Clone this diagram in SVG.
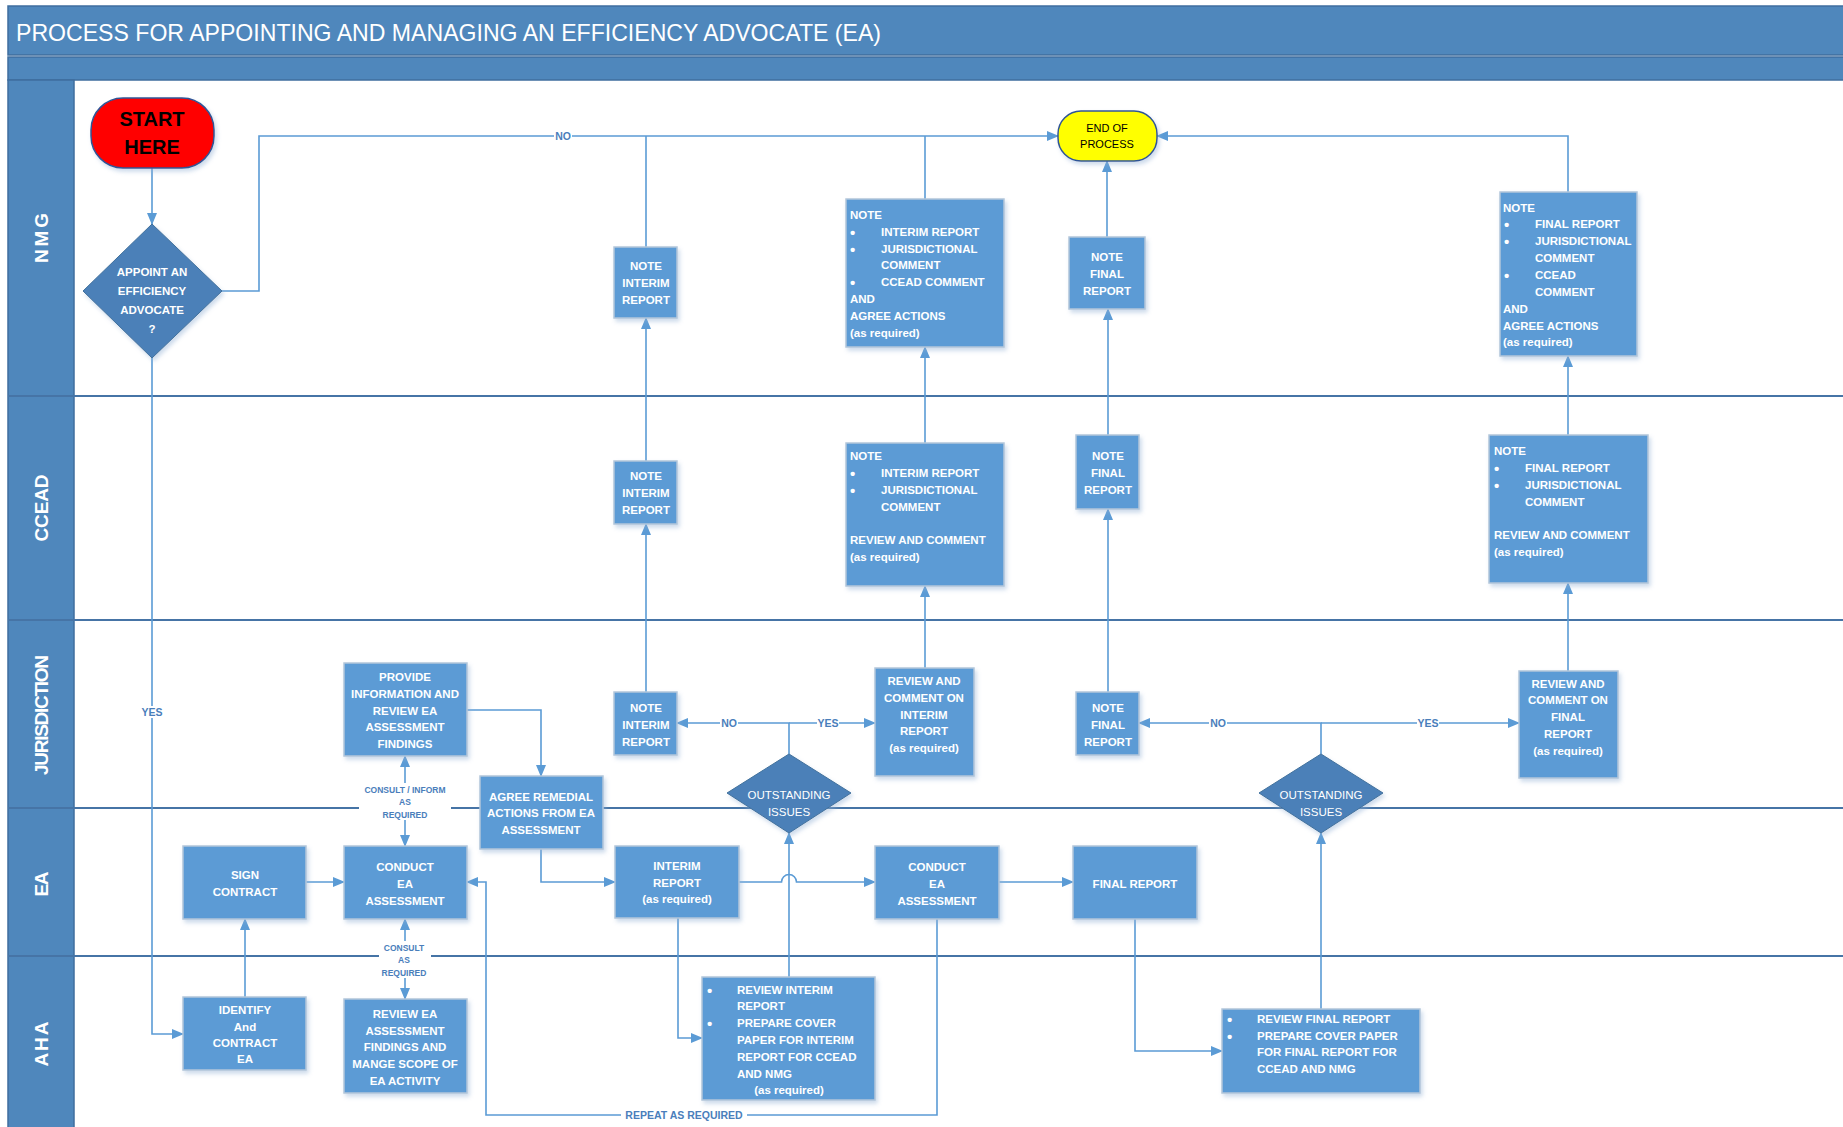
<svg xmlns="http://www.w3.org/2000/svg" width="1843" height="1127" viewBox="0 0 1843 1127">
<style>
.band{fill:#4F87BC;stroke:#3F6E9E;stroke-width:1.5}
.lane{stroke:#4674A6;stroke-width:2;fill:none}
.lname{font-family:"Liberation Sans",Arial,sans-serif;font-weight:bold;font-size:19px;fill:#fff;text-anchor:middle;dominant-baseline:central}
.box{fill:#5B9BD5;stroke:#B3C6DA;stroke-width:1.5;filter:url(#sh)}
.dia{fill:#4C80B8;stroke:#41719C;stroke-width:1;filter:url(#sh)}
.t{font-family:"Liberation Sans",Arial,sans-serif;font-weight:bold;font-size:11.5px;fill:#fff;dominant-baseline:central}
.b{font-size:15px}
.c{text-anchor:middle}
.tr{font-family:"Liberation Sans",Arial,sans-serif;font-size:11.5px;fill:#fff;text-anchor:middle;dominant-baseline:central}
.cn{fill:none;stroke:#5B9BD5;stroke-width:1.6}
.ar{marker-end:url(#ah)}
.lbl{font-family:"Liberation Sans",Arial,sans-serif;font-weight:bold;font-size:10.5px;fill:#4A7EBB;text-anchor:middle;dominant-baseline:central}
.sm{font-size:8.5px}
.bg{fill:#fff}
</style>
<defs>
<marker id="ah" markerUnits="userSpaceOnUse" markerWidth="12" markerHeight="10" refX="11" refY="5" orient="auto-start-reverse">
<path d="M0,0 L12,5 L0,10 z" fill="#5B9BD5"/>
</marker>
<filter id="sh" x="-10%" y="-10%" width="130%" height="130%">
<feDropShadow dx="2" dy="3" stdDeviation="2" flood-color="#8FAFD3" flood-opacity="0.45"/>
</filter>
</defs>
<rect x="0" y="0" width="1843" height="1127" fill="#fff"/>
<!-- header bands -->
<rect class="band" x="8" y="6" width="1840" height="49"/>
<rect class="band" x="8" y="57" width="1840" height="23"/>
<text x="16" y="32" font-family="Liberation Sans,Arial,sans-serif" font-size="24" fill="#fff" dominant-baseline="central" textLength="865" lengthAdjust="spacingAndGlyphs">PROCESS FOR APPOINTING AND MANAGING AN EFFICIENCY ADVOCATE (EA)</text>
<!-- lane header column -->
<rect class="band" x="8" y="80" width="66" height="1050"/>
<g id="lanes">
<line class="lane" x1="8" y1="396" x2="1843" y2="396"/>
<line class="lane" x1="8" y1="620" x2="1843" y2="620"/>
<line class="lane" x1="8" y1="808" x2="1843" y2="808"/>
<line class="lane" x1="8" y1="956" x2="1843" y2="956"/>
<text class="lname" transform="rotate(-90 41 238)" x="41" y="238" textLength="50">NMG</text>
<text class="lname" transform="rotate(-90 41 508)" x="41" y="508" textLength="67">CCEAD</text>
<text class="lname" transform="rotate(-90 41 715)" x="41" y="715" textLength="120">JURISDICTION</text>
<text class="lname" transform="rotate(-90 41 884)" x="41" y="884" textLength="25">EA</text>
<text class="lname" transform="rotate(-90 41 1044)" x="41" y="1044" textLength="45">AHA</text>
</g>
<g id="connectors">
<path class="cn ar" d="M152,168 V224"/>
<path class="cn ar" d="M222,291 H259 V136 H1058"/>
<path class="cn" d="M646,247 V136"/>
<path class="cn" d="M925,199 V136"/>
<path class="cn ar" d="M152,358 V1034 H183"/>
<path class="cn ar" d="M245,997 V919"/>
<path class="cn ar" d="M306,882 H344"/>
<path class="cn ar" d="M405,802 V756" />
<path class="cn ar" d="M405,802 V846" />
<path class="cn ar" d="M405,960 V919" />
<path class="cn ar" d="M405,960 V999" />
<path class="cn ar" d="M467,710 H541 V776"/>
<path class="cn ar" d="M541,849 V882 H615"/>
<path class="cn ar" d="M739,882 H781.5 A7.5,7.5 0 0 1 796.5,882 H875"/>
<path class="cn ar" d="M999,882 H1073"/>
<path class="cn ar" d="M678,918 V1038 H702"/>
<path class="cn ar" d="M789,977 V833"/>
<path class="cn ar" d="M789,754 V723 H677"/>
<path class="cn ar" d="M789,723 H875"/>
<path class="cn ar" d="M646,692 V524"/>
<path class="cn ar" d="M646,461 V318"/>
<path class="cn ar" d="M925,668 V586"/>
<path class="cn ar" d="M925,443 V347"/>
<path class="cn ar" d="M1108,692 V509"/>
<path class="cn ar" d="M1108,435 V309"/>
<path class="cn ar" d="M1107,237 V161"/>
<path class="cn ar" d="M1568,192 V136 H1157"/>
<path class="cn ar" d="M1321,754 V723 H1139"/>
<path class="cn ar" d="M1321,723 H1519"/>
<path class="cn ar" d="M1568,671 V583"/>
<path class="cn ar" d="M1568,435 V356"/>
<path class="cn ar" d="M1321,1009 V833"/>
<path class="cn ar" d="M1135,919 V1051 H1222"/>
<path class="cn ar" d="M937,919 V1115 H486 V882 H467"/>
<!-- labels -->
<rect class="bg" x="554" y="130" width="18" height="12"/>
<text class="lbl" x="563" y="136">NO</text>
<rect class="bg" x="141" y="706" width="22" height="12"/>
<text class="lbl" x="152" y="712">YES</text>
<rect class="bg" x="359" y="783" width="92" height="37"/>
<text class="lbl sm" x="405" y="790">CONSULT / INFORM</text>
<text class="lbl sm" x="405" y="802">AS</text>
<text class="lbl sm" x="405" y="815">REQUIRED</text>
<rect class="bg" x="379" y="941" width="52" height="37"/>
<text class="lbl sm" x="404" y="948">CONSULT</text>
<text class="lbl sm" x="404" y="960">AS</text>
<text class="lbl sm" x="404" y="973">REQUIRED</text>
<rect class="bg" x="720" y="717" width="18" height="12"/>
<text class="lbl" x="729" y="723">NO</text>
<rect class="bg" x="817" y="717" width="22" height="12"/>
<text class="lbl" x="828" y="723">YES</text>
<rect class="bg" x="1209" y="717" width="18" height="12"/>
<text class="lbl" x="1218" y="723">NO</text>
<rect class="bg" x="1417" y="717" width="22" height="12"/>
<text class="lbl" x="1428" y="723">YES</text>
<rect class="bg" x="621" y="1109" width="126" height="12"/>
<text class="lbl" x="684" y="1115">REPEAT AS REQUIRED</text>
</g>
<g id="start">
<rect x="91" y="98" width="123" height="70" rx="32" fill="#FF0000" stroke="#2F5597" stroke-width="1.5" filter="url(#sh)"/>
<text x="152" y="119" font-family="Liberation Sans,Arial,sans-serif" font-weight="bold" font-size="20" fill="#000" text-anchor="middle" dominant-baseline="central">START</text>
<text x="152" y="147" font-family="Liberation Sans,Arial,sans-serif" font-weight="bold" font-size="20" fill="#000" text-anchor="middle" dominant-baseline="central">HERE</text>
</g>
<g id="end">
<rect x="1058" y="111" width="99" height="50" rx="23" fill="#FFFF00" stroke="#2F5597" stroke-width="1.5" filter="url(#sh)"/>
<text x="1107" y="128" font-family="Liberation Sans,Arial,sans-serif" font-size="11" fill="#000" text-anchor="middle" dominant-baseline="central">END OF</text>
<text x="1107" y="144" font-family="Liberation Sans,Arial,sans-serif" font-size="11" fill="#000" text-anchor="middle" dominant-baseline="central">PROCESS</text>
</g>
<g id="appoint">
<polygon class="dia" points="152,224 222,291 152,358 83,291"/>
<text class="t c" x="152" y="272">APPOINT AN</text>
<text class="t c" x="152" y="291">EFFICIENCY</text>
<text class="t c" x="152" y="310">ADVOCATE</text>
<text class="t c" x="152" y="329">?</text>
</g>
<g id="nmg-note-interim">
<rect class="box" x="614" y="247" width="63" height="71"/>
<text class="t c" x="646" y="266">NOTE</text>
<text class="t c" x="646" y="283">INTERIM</text>
<text class="t c" x="646" y="300">REPORT</text>
</g>
<g id="nmg-note-interim-full">
<rect class="box" x="846" y="199" width="158" height="148"/>
<text class="t" x="850" y="215">NOTE</text>
<text class="t b" x="850" y="232">•</text><text class="t" x="881" y="232">INTERIM REPORT</text>
<text class="t b" x="850" y="249">•</text><text class="t" x="881" y="249">JURISDICTIONAL</text>
<text class="t" x="881" y="265">COMMENT</text>
<text class="t b" x="850" y="282">•</text><text class="t" x="881" y="282">CCEAD COMMENT</text>
<text class="t" x="850" y="299">AND</text>
<text class="t" x="850" y="316">AGREE ACTIONS</text>
<text class="t" x="850" y="333" font-weight="normal">(as required)</text>
</g>
<g id="nmg-note-final">
<rect class="box" x="1069" y="237" width="76" height="72"/>
<text class="t c" x="1107" y="257">NOTE</text>
<text class="t c" x="1107" y="274">FINAL</text>
<text class="t c" x="1107" y="291">REPORT</text>
</g>
<g id="nmg-note-final-full">
<rect class="box" x="1500" y="192" width="137" height="164"/>
<text class="t" x="1503" y="208">NOTE</text>
<text class="t b" x="1504" y="224">•</text><text class="t" x="1535" y="224">FINAL REPORT</text>
<text class="t b" x="1504" y="241">•</text><text class="t" x="1535" y="241">JURISDICTIONAL</text>
<text class="t" x="1535" y="258">COMMENT</text>
<text class="t b" x="1504" y="275">•</text><text class="t" x="1535" y="275">CCEAD</text>
<text class="t" x="1535" y="292">COMMENT</text>
<text class="t" x="1503" y="309">AND</text>
<text class="t" x="1503" y="326">AGREE ACTIONS</text>
<text class="t" x="1503" y="342" font-weight="normal">(as required)</text>
</g>
<g id="ccead-note-interim">
<rect class="box" x="614" y="461" width="63" height="63"/>
<text class="t c" x="646" y="476">NOTE</text>
<text class="t c" x="646" y="493">INTERIM</text>
<text class="t c" x="646" y="510">REPORT</text>
</g>
<g id="ccead-review-interim">
<rect class="box" x="846" y="443" width="158" height="143"/>
<text class="t" x="850" y="456">NOTE</text>
<text class="t b" x="850" y="473">•</text><text class="t" x="881" y="473">INTERIM REPORT</text>
<text class="t b" x="850" y="490">•</text><text class="t" x="881" y="490">JURISDICTIONAL</text>
<text class="t" x="881" y="507">COMMENT</text>
<text class="t" x="850" y="540">REVIEW AND COMMENT</text>
<text class="t" x="850" y="557" font-weight="normal">(as required)</text>
</g>
<g id="ccead-note-final">
<rect class="box" x="1076" y="435" width="63" height="74"/>
<text class="t c" x="1108" y="456">NOTE</text>
<text class="t c" x="1108" y="473">FINAL</text>
<text class="t c" x="1108" y="490">REPORT</text>
</g>
<g id="ccead-review-final">
<rect class="box" x="1489" y="435" width="159" height="148"/>
<text class="t" x="1494" y="451">NOTE</text>
<text class="t b" x="1494" y="468">•</text><text class="t" x="1525" y="468">FINAL REPORT</text>
<text class="t b" x="1494" y="485">•</text><text class="t" x="1525" y="485">JURISDICTIONAL</text>
<text class="t" x="1525" y="502">COMMENT</text>
<text class="t" x="1494" y="535">REVIEW AND COMMENT</text>
<text class="t" x="1494" y="552" font-weight="normal">(as required)</text>
</g>
<g id="provide">
<rect class="box" x="344" y="663" width="123" height="93"/>
<text class="t c" x="405" y="677">PROVIDE</text>
<text class="t c" x="405" y="694">INFORMATION AND</text>
<text class="t c" x="405" y="711">REVIEW EA</text>
<text class="t c" x="405" y="727">ASSESSMENT</text>
<text class="t c" x="405" y="744">FINDINGS</text>
</g>
<g id="juris-note-interim">
<rect class="box" x="614" y="692" width="63" height="63"/>
<text class="t c" x="646" y="708">NOTE</text>
<text class="t c" x="646" y="725">INTERIM</text>
<text class="t c" x="646" y="742">REPORT</text>
</g>
<g id="review-comment-interim">
<rect class="box" x="875" y="668" width="99" height="108"/>
<text class="t c" x="924" y="681">REVIEW AND</text>
<text class="t c" x="924" y="698">COMMENT ON</text>
<text class="t c" x="924" y="715">INTERIM</text>
<text class="t c" x="924" y="731">REPORT</text>
<text class="t c" x="924" y="748" font-weight="normal">(as required)</text>
</g>
<g id="juris-note-final">
<rect class="box" x="1076" y="692" width="63" height="63"/>
<text class="t c" x="1108" y="708">NOTE</text>
<text class="t c" x="1108" y="725">FINAL</text>
<text class="t c" x="1108" y="742">REPORT</text>
</g>
<g id="review-comment-final">
<rect class="box" x="1519" y="671" width="99" height="107"/>
<text class="t c" x="1568" y="684">REVIEW AND</text>
<text class="t c" x="1568" y="700">COMMENT ON</text>
<text class="t c" x="1568" y="717">FINAL</text>
<text class="t c" x="1568" y="734">REPORT</text>
<text class="t c" x="1568" y="751" font-weight="normal">(as required)</text>
</g>
<g id="agree">
<rect class="box" x="480" y="776" width="123" height="73"/>
<text class="t c" x="541" y="797">AGREE REMEDIAL</text>
<text class="t c" x="541" y="813">ACTIONS FROM EA</text>
<text class="t c" x="541" y="830">ASSESSMENT</text>
</g>
<g id="outstanding-1">
<polygon class="dia" points="789,754 851,793 789,833 727,793"/>
<text class="tr" x="789" y="795">OUTSTANDING</text>
<text class="tr" x="789" y="812">ISSUES</text>
</g>
<g id="outstanding-2">
<polygon class="dia" points="1321,754 1383,793 1321,833 1259,793"/>
<text class="tr" x="1321" y="795">OUTSTANDING</text>
<text class="tr" x="1321" y="812">ISSUES</text>
</g>
<g id="sign">
<rect class="box" x="183" y="846" width="123" height="73"/>
<text class="t c" x="245" y="875">SIGN</text>
<text class="t c" x="245" y="892">CONTRACT</text>
</g>
<g id="conduct-1">
<rect class="box" x="344" y="846" width="123" height="73"/>
<text class="t c" x="405" y="867">CONDUCT</text>
<text class="t c" x="405" y="884">EA</text>
<text class="t c" x="405" y="901">ASSESSMENT</text>
</g>
<g id="interim">
<rect class="box" x="615" y="846" width="124" height="72"/>
<text class="t c" x="677" y="866">INTERIM</text>
<text class="t c" x="677" y="883">REPORT</text>
<text class="t c" x="677" y="899" font-weight="normal">(as required)</text>
</g>
<g id="conduct-2">
<rect class="box" x="875" y="846" width="124" height="73"/>
<text class="t c" x="937" y="867">CONDUCT</text>
<text class="t c" x="937" y="884">EA</text>
<text class="t c" x="937" y="901">ASSESSMENT</text>
</g>
<g id="final-report">
<rect class="box" x="1073" y="846" width="124" height="73"/>
<text class="t c" x="1135" y="884">FINAL REPORT</text>
</g>
<g id="identify">
<rect class="box" x="183" y="997" width="123" height="73"/>
<text class="t c" x="245" y="1010">IDENTIFY</text>
<text class="t c" x="245" y="1027">And</text>
<text class="t c" x="245" y="1043">CONTRACT</text>
<text class="t c" x="245" y="1059">EA</text>
</g>
<g id="review-ea">
<rect class="box" x="344" y="999" width="123" height="94"/>
<text class="t c" x="405" y="1014">REVIEW EA</text>
<text class="t c" x="405" y="1031">ASSESSMENT</text>
<text class="t c" x="405" y="1047">FINDINGS AND</text>
<text class="t c" x="405" y="1064">MANGE SCOPE OF</text>
<text class="t c" x="405" y="1081">EA ACTIVITY</text>
</g>
<g id="review-interim-aha">
<rect class="box" x="702" y="977" width="173" height="123"/>
<text class="t b" x="707" y="990">•</text><text class="t" x="737" y="990">REVIEW INTERIM</text>
<text class="t" x="737" y="1006">REPORT</text>
<text class="t b" x="707" y="1023">•</text><text class="t" x="737" y="1023">PREPARE COVER</text>
<text class="t" x="737" y="1040">PAPER FOR INTERIM</text>
<text class="t" x="737" y="1057">REPORT FOR CCEAD</text>
<text class="t" x="737" y="1074">AND NMG</text>
<text class="t c" x="789" y="1090" font-weight="normal">(as required)</text>
</g>
<g id="review-final-aha">
<rect class="box" x="1222" y="1009" width="198" height="84"/>
<text class="t b" x="1227" y="1019">•</text><text class="t" x="1257" y="1019">REVIEW FINAL REPORT</text>
<text class="t b" x="1227" y="1036">•</text><text class="t" x="1257" y="1036">PREPARE COVER PAPER</text>
<text class="t" x="1257" y="1052">FOR FINAL  REPORT FOR</text>
<text class="t" x="1257" y="1069">CCEAD AND NMG</text>
</g>
</svg>
